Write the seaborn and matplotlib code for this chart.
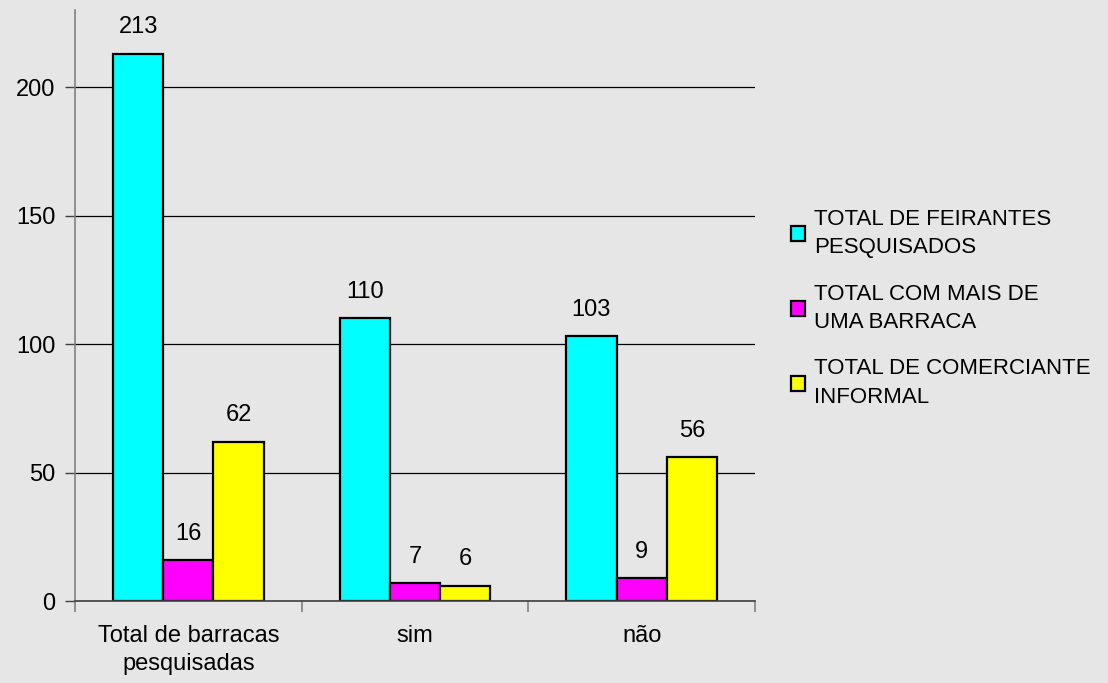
import pandas as pd
import seaborn as sns
import matplotlib.pyplot as plt
from matplotlib.patches import Patch


###
### DATA
###

categories = ['Total de barracas\npesquisadas', 'sim', 'não']
series_names = ['TOTAL DE FEIRANTES\nPESQUISADOS',
                'TOTAL COM MAIS DE\nUMA BARRACA',
                'TOTAL DE COMERCIANTE\nINFORMAL']
feirantes = [213, 110, 103]
mais_barraca = [16, 7, 9]
comerciante = [62, 6, 56]
colors = ['#00ffff', '#ff00ff', '#ffff00']

# long-form dataframe for seaborn
rows = []
for name, values in zip(series_names, [feirantes, mais_barraca, comerciante]):
    for cat, v in zip(categories, values):
        rows.append({'categoria': cat, 'serie': name, 'valor': v})
df = pd.DataFrame(rows)


###
### PLOT
###

sns.set_theme(style='white')
plt.rcParams['font.family'] = ['Liberation Sans', 'DejaVu Sans']
plt.rcParams['text.color'] = 'black'
plt.rcParams['xtick.color'] = 'black'
plt.rcParams['ytick.color'] = 'black'

bg = '#e6e6e6'
fig = plt.figure(figsize=(11.08, 6.83), dpi=100, facecolor=bg)
ax = fig.add_axes([75 / 1108, 82 / 683, 680 / 1108, 591 / 683])
ax.set_facecolor(bg)

sns.barplot(data=df, x='categoria', y='valor', hue='serie', order=categories,
            hue_order=series_names, palette=colors, width=0.665, gap=0,
            edgecolor='black', linewidth=1.6, saturation=1, ax=ax, legend=False)

for container in ax.containers:
    ax.bar_label(container, padding=11, fontsize=17, color='black')

# gridlines behind the bars
ax.set_axisbelow(True)
ax.yaxis.grid(True, color='black', linewidth=0.9)
ax.xaxis.grid(False)

ax.set_ylim(0, 230)
ax.set_xlim(-0.5, 2.5)
ax.set_yticks([0, 50, 100, 150, 200])
ax.set_xlabel('')
ax.set_ylabel('')

# spines
for s in ['top', 'right']:
    ax.spines[s].set_visible(False)
ax.spines['left'].set_color('#808080')
ax.spines['left'].set_linewidth(1.2)
ax.spines['bottom'].set_color('#404040')
ax.spines['bottom'].set_linewidth(1.2)

ax.tick_params(axis='y', which='major', direction='out', length=7, width=1,
               color='#404040', pad=7, labelsize=17, left=True,
               labelcolor='black')
ax.set_xticks([-0.5, 0.5, 1.5, 2.5], minor=True)
ax.tick_params(axis='x', which='minor', direction='out', length=8, width=1.2,
               color='#808080', bottom=True)
ax.tick_params(axis='x', which='major', length=0, pad=17, labelsize=17,
               labelcolor='black')
for lbl in ax.get_xticklabels():
    lbl.set_linespacing(1.4)

# legend
handles = [Patch(facecolor=c, edgecolor='black', linewidth=1.6) for c in colors]
leg = fig.legend(handles, series_names, loc='upper left',
                 bbox_to_anchor=(782 / 1108, 1 - 200 / 683), frameon=False,
                 fontsize=16, handlelength=0.65, handleheight=0.65,
                 handletextpad=0.4, labelspacing=1.15, borderaxespad=0)
for t in leg.get_texts():
    t.set_linespacing(1.45)
    t.set_color('black')

fig.savefig('out.png', dpi=100, facecolor=bg)
